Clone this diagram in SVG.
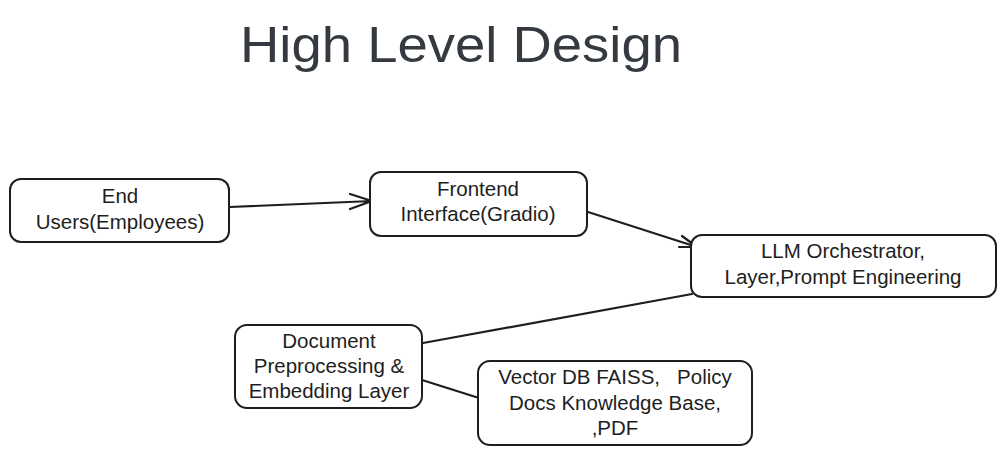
<svg xmlns="http://www.w3.org/2000/svg" width="1006" height="456" viewBox="0 0 1006 456">
<style>
.box{fill:#ffffff;stroke:#1e1e1e;stroke-width:2;}
.t{font-family:"Liberation Sans",Arial,sans-serif;font-size:20.5px;fill:#1e1e1e;text-anchor:middle;}
.title{font-family:"Liberation Sans",Arial,sans-serif;font-size:50px;fill:#343a40;}
.c{fill:none;stroke:#1e1e1e;stroke-width:2.2;stroke-linecap:round;stroke-linejoin:round;}
</style>
<rect width="1006" height="456" fill="#ffffff"/>
<text class="title" x="240" y="62" textLength="442" lengthAdjust="spacingAndGlyphs">High Level Design</text>
<g id="connectors">
<path class="c" d="M230 207 L372 201 M350 194 L372 201 L350 209"/>
<path class="c" d="M588 212 L697 247 M682 236 L697 247 L679 247"/>
<path class="c" d="M692 294 L423 343"/>
<path class="c" d="M422 380 L479 398"/>
</g>
<g id="end-users">
<rect class="box" x="10" y="179" width="219" height="63" rx="11"/>
<text class="t" x="120" y="203">End</text>
<text class="t" x="120" y="229">Users(Employees)</text>
</g>
<g id="frontend">
<rect class="box" x="370" y="172" width="217" height="64" rx="11"/>
<text class="t" x="478" y="196">Frontend</text>
<text class="t" x="478" y="221">Interface(Gradio)</text>
</g>
<g id="llm">
<rect class="box" x="691" y="235" width="305" height="62" rx="11"/>
<text class="t" x="843" y="258">LLM Orchestrator,</text>
<text class="t" x="843" y="284">Layer,Prompt Engineering</text>
</g>
<g id="document">
<rect class="box" x="235" y="325" width="187" height="83" rx="12"/>
<text class="t" x="329" y="348">Document</text>
<text class="t" x="329" y="373">Preprocessing &amp;</text>
<text class="t" x="329" y="398">Embedding Layer</text>
</g>
<g id="vector-db">
<rect class="box" x="478" y="361" width="274" height="84" rx="12"/>
<text class="t" x="615" y="384" xml:space="preserve">Vector DB FAISS,   Policy</text>
<text class="t" x="615" y="410">Docs Knowledge Base,</text>
<text class="t" x="615" y="435">,PDF</text>
</g>
</svg>
